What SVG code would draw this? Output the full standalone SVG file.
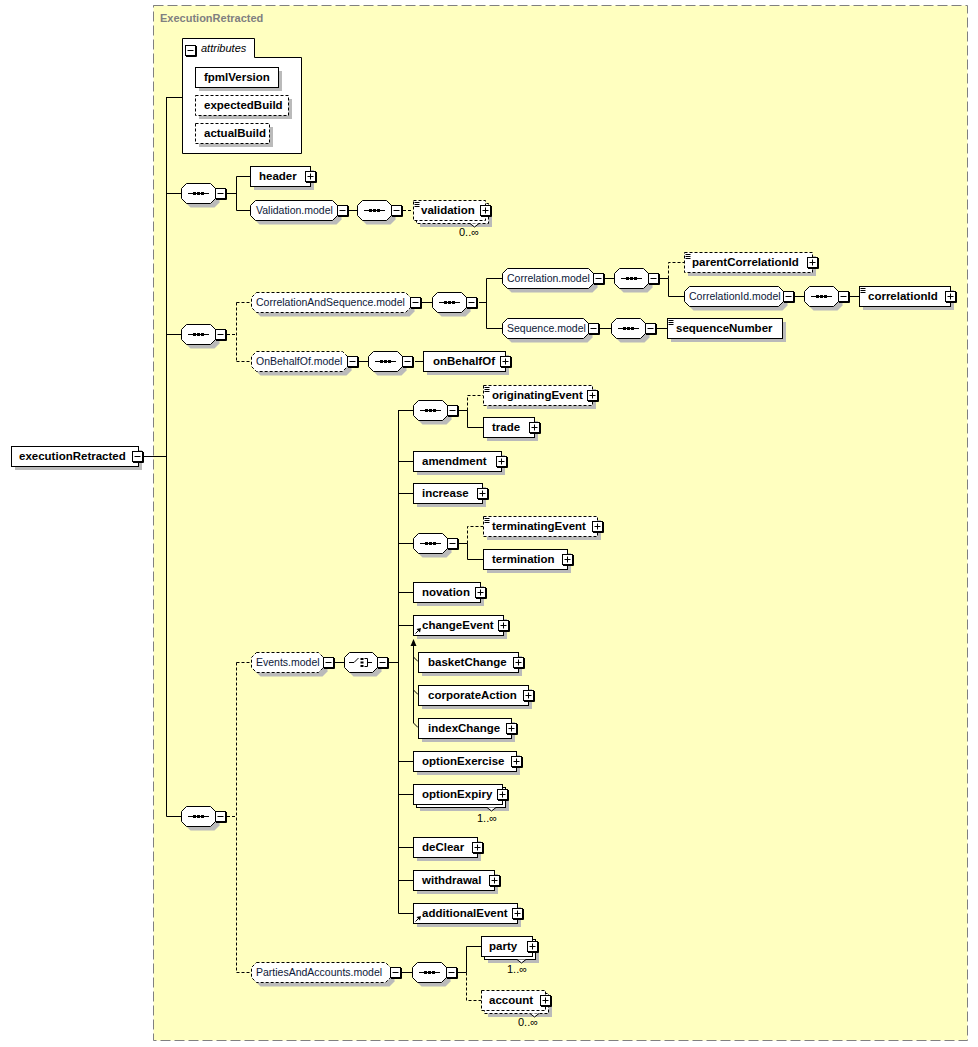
<svg xmlns="http://www.w3.org/2000/svg" width="978" height="1047" viewBox="0 0 978 1047">
<style>
.sh{fill:#bababa}
.bx{fill:#fff;stroke:#000}
.d{stroke-dasharray:3 2}
.ln{fill:none;stroke:#000}
.el{font-family:"Liberation Sans",Arial,sans-serif;font-size:11.5px;font-weight:bold;fill:#000}
.md{font-family:"Liberation Sans",Arial,sans-serif;font-size:10.5px;fill:#0c1838}
.oc{font-family:"Liberation Sans",Arial,sans-serif;font-size:11px;fill:#000}
</style>
<defs>
<g id="plus"><rect x="0.5" y="0.5" width="10" height="10" fill="#fff" stroke="#000"/><path d="M11.5,1V11.5H1" fill="none" stroke="#000"/><path d="M2.5,5.5H8.5M5.5,2.5V8.5" stroke="#000"/></g>
<g id="minus"><rect x="0.5" y="0.5" width="10" height="10" fill="#fff" stroke="#000"/><path d="M11.5,1V11.5H1" fill="none" stroke="#000"/><path d="M2.5,5.5H8.5" stroke="#000"/></g>
<g id="seq"><path class="sh" transform="translate(4,4)" d="M5.5,0.5H29.5L34.5,5.5V15.5L29.5,20.5H5.5L0.5,15.5V5.5Z"/><path class="bx" d="M5.5,0.5H29.5L34.5,5.5V15.5L29.5,20.5H5.5L0.5,15.5V5.5Z"/><path d="M7,10.5H28" stroke="#000"/><rect x="12" y="9" width="3" height="3"/><rect x="16" y="9" width="3" height="3"/><rect x="20" y="9" width="3" height="3"/><use href="#minus" x="34" y="5"/></g>
<g id="sti"><path d="M1.5,2.5H6.5M1.5,4.5H6.5M1.5,6.5H6.5" stroke="#000"/></g>
<g id="ref"><path d="M2.5,18.5L6,15" stroke="#000"/><polygon points="8,13 3.5,14 7,17.5" fill="#000"/></g>
</defs>

<rect x="153.5" y="5.5" width="814" height="1035" fill="#ffffc0" stroke="#808080" stroke-dasharray="10 4"/>
<text x="160" y="22" font-family="Liberation Sans, Arial, sans-serif" font-size="11" font-weight="bold" fill="#808080">ExecutionRetracted</text>

<g id="connectors" class="ln">
<path d="M143,456.5H166.5M166.5,97V816.5M166.5,97.5H182M166.5,193.5H181"/>
<path d="M227,193.5H236.5M236.5,176.5V210.5M236.5,176.5H250M236.5,210.5H250M348,210.5H357"/>
<path class="d" d="M403,210.5H413"/>
<path d="M166.5,334.5H181"/>
<path class="d" d="M227,334.5H236.5M236.5,302.5V361.5M236.5,302.5H251M236.5,361.5H251"/>
<path d="M422,302.5H432M479,302.5H486.5M486.5,278.5V328.5M486.5,278.5H502M486.5,328.5H502"/>
<path d="M605,278.5H614M660,278.5H668.5M668.5,278.5V296.5H684"/>
<path class="d" d="M668.5,278.5V262.5H684"/>
<path d="M795,296.5H804M850,296.5H859M600,328.5H611M657,328.5H667M359,361.5H368M415,361.5H423"/>
<path d="M166.5,816.5H181"/>
<path class="d" d="M227,816.5H236.5M236.5,662.5V972.5M236.5,662.5H251M236.5,972.5H251"/>
<path d="M335,662.5H344M389,662.5H398.5M398.5,410V913.5"/>
<path d="M398.5,410.5H413M398.5,461.5H413M398.5,493.5H413M398.5,543.5H413M398.5,592.5H413M398.5,625.5H413M398.5,761.5H413M398.5,794.5H413M398.5,847.5H413M398.5,880.5H413M398.5,913.5H413"/>
<path d="M459,410.5H467.5M467.5,410.5V427.5H483M459,543.5H467.5M467.5,543.5V559.5H483"/>
<path class="d" d="M467.5,410.5V395.5H483M467.5,543.5V526.5H483"/>
<path d="M413.5,645V723M413.5,657L418,661.5M413.5,690L418,694.5M413.5,723L418,727.5"/>
<polygon points="413.5,639 410.5,646 416.5,646" fill="#000" stroke="none"/>
<path d="M402,972.5H412M457,972.5H466.5M466.5,972.5V946.5H481"/>
<path class="d" d="M466.5,972.5V1000.5H481"/>
</g>

<g id="n-executionRetracted"><rect class="sh" x="15" y="450" width="127" height="20"/><rect class="bx" x="11.5" y="446.5" width="127" height="20"/><text class="el" x="19" y="460">executionRetracted</text><use href="#minus" x="132" y="451"/></g>

<g id="n-attributes"><path class="bx" d="M182.5,38.5H254.5V57.5H301.5V153.5H182.5Z"/><use href="#minus" x="185" y="45"/><text x="201" y="52" font-family="Liberation Sans, Arial, sans-serif" font-size="11" font-style="italic">attributes</text></g>
<g id="n-fpmlVersion"><rect class="sh" x="199" y="71" width="83" height="20"/><rect class="bx" x="195.5" y="67.5" width="83" height="20"/><text class="el" x="204" y="81">fpmlVersion</text></g>
<g id="n-expectedBuild"><rect class="sh" x="199" y="99" width="93" height="20"/><rect class="bx d" x="195.5" y="95.5" width="93" height="20"/><text class="el" x="204" y="109">expectedBuild</text></g>
<g id="n-actualBuild"><rect class="sh" x="199" y="127" width="74" height="20"/><rect class="bx d" x="195.5" y="123.5" width="74" height="20"/><text class="el" x="204" y="137">actualBuild</text></g>

<g id="seq1"><use href="#seq" x="181" y="183"/></g>
<g id="n-header"><rect class="sh" x="254" y="170" width="60" height="20"/><rect class="bx" x="250.5" y="166.5" width="60" height="20"/><text class="el" x="259" y="180">header</text><use href="#plus" x="305" y="171"/></g>
<g id="n-Validation.model" transform="translate(250,200)"><path class="sh" transform="translate(4,4)" d="M5.5,0.5H82.5L87.5,5.5V15.5L82.5,20.5H5.5L0.5,15.5V5.5Z"/><path class="bx" d="M5.5,0.5H82.5L87.5,5.5V15.5L82.5,20.5H5.5L0.5,15.5V5.5Z"/><text class="md" x="6" y="14">Validation.model</text><use href="#minus" x="87" y="5"/></g>
<g id="seq-validation"><use href="#seq" x="357" y="200"/></g>
<g id="n-validation"><rect class="sh" x="420" y="207" width="72" height="20"/><rect class="bx d" x="416.5" y="203.5" width="72" height="20"/><polyline points="470,223.5 474.5,227 479,223.5" fill="#fff" stroke="#000"/><rect class="bx d" x="413.5" y="200.5" width="72" height="20"/><use href="#sti" x="413" y="200"/><text class="el" x="421" y="214">validation</text><use href="#plus" x="480" y="205"/><text class="oc" x="459" y="236">0..∞</text></g>

<g id="seq2"><use href="#seq" x="181" y="324"/></g>
<g id="n-CorrelationAndSequence.model" transform="translate(251,292)"><path class="sh" transform="translate(4,4)" d="M5.5,0.5H154.5L159.5,5.5V15.5L154.5,20.5H5.5L0.5,15.5V5.5Z"/><path class="bx d" d="M5.5,0.5H154.5L159.5,5.5V15.5L154.5,20.5H5.5L0.5,15.5V5.5Z"/><text class="md" x="5" y="14">CorrelationAndSequence.model</text><use href="#minus" x="159" y="5"/></g>
<g id="seq-cas"><use href="#seq" x="432" y="292"/></g>
<g id="n-Correlation.model" transform="translate(502,268)"><path class="sh" transform="translate(4,4)" d="M5.5,0.5H86.5L91.5,5.5V15.5L86.5,20.5H5.5L0.5,15.5V5.5Z"/><path class="bx" d="M5.5,0.5H86.5L91.5,5.5V15.5L86.5,20.5H5.5L0.5,15.5V5.5Z"/><text class="md" x="5" y="14">Correlation.model</text><use href="#minus" x="91" y="5"/></g>
<g id="seq-corr"><use href="#seq" x="614" y="268"/></g>
<g id="n-parentCorrelationId"><rect class="sh" x="688" y="256" width="128" height="20"/><rect class="bx d" x="684.5" y="252.5" width="128" height="20"/><use href="#sti" x="684" y="252"/><text class="el" x="692" y="266">parentCorrelationId</text><use href="#plus" x="807" y="257"/></g>
<g id="n-CorrelationId.model" transform="translate(684,286)"><path class="sh" transform="translate(4,4)" d="M5.5,0.5H94.5L99.5,5.5V15.5L94.5,20.5H5.5L0.5,15.5V5.5Z"/><path class="bx" d="M5.5,0.5H94.5L99.5,5.5V15.5L94.5,20.5H5.5L0.5,15.5V5.5Z"/><text class="md" x="5" y="14">CorrelationId.model</text><use href="#minus" x="99" y="5"/></g>
<g id="seq-corrid"><use href="#seq" x="804" y="286"/></g>
<g id="n-correlationId"><rect class="sh" x="863" y="290" width="91" height="20"/><rect class="bx" x="859.5" y="286.5" width="91" height="20"/><use href="#sti" x="859" y="286"/><text class="el" x="868" y="300">correlationId</text><use href="#plus" x="945" y="291"/></g>
<g id="n-Sequence.model" transform="translate(502,318)"><path class="sh" transform="translate(4,4)" d="M5.5,0.5H81.5L86.5,5.5V15.5L81.5,20.5H5.5L0.5,15.5V5.5Z"/><path class="bx" d="M5.5,0.5H81.5L86.5,5.5V15.5L81.5,20.5H5.5L0.5,15.5V5.5Z"/><text class="md" x="5" y="14">Sequence.model</text><use href="#minus" x="86" y="5"/></g>
<g id="seq-seqm"><use href="#seq" x="611" y="318"/></g>
<g id="n-sequenceNumber"><rect class="sh" x="671" y="322" width="115" height="20"/><rect class="bx" x="667.5" y="318.5" width="115" height="20"/><use href="#sti" x="667" y="318"/><text class="el" x="676" y="332">sequenceNumber</text></g>
<g id="n-OnBehalfOf.model" transform="translate(251,351)"><path class="sh" transform="translate(4,4)" d="M5.5,0.5H91.5L96.5,5.5V15.5L91.5,20.5H5.5L0.5,15.5V5.5Z"/><path class="bx d" d="M5.5,0.5H91.5L96.5,5.5V15.5L91.5,20.5H5.5L0.5,15.5V5.5Z"/><text class="md" x="5" y="14">OnBehalfOf.model</text><use href="#minus" x="96" y="5"/></g>
<g id="seq-obo"><use href="#seq" x="368" y="351"/></g>
<g id="n-onBehalfOf"><rect class="sh" x="427" y="355" width="82" height="20"/><rect class="bx" x="423.5" y="351.5" width="82" height="20"/><text class="el" x="433" y="365">onBehalfOf</text><use href="#plus" x="500" y="356"/></g>

<g id="seq3"><use href="#seq" x="181" y="806"/></g>
<g id="n-Events.model" transform="translate(251,652)"><path class="sh" transform="translate(4,4)" d="M5.5,0.5H67.5L72.5,5.5V15.5L67.5,20.5H5.5L0.5,15.5V5.5Z"/><path class="bx d" d="M5.5,0.5H67.5L72.5,5.5V15.5L67.5,20.5H5.5L0.5,15.5V5.5Z"/><text class="md" x="5" y="14">Events.model</text><use href="#minus" x="72" y="5"/></g>
<g id="choice-events" transform="translate(344,652)"><path class="sh" transform="translate(4,4)" d="M5.5,0.5H28.5L33.5,5.5V15.5L28.5,20.5H5.5L0.5,15.5V5.5Z"/><path class="bx" d="M5.5,0.5H28.5L33.5,5.5V15.5L28.5,20.5H5.5L0.5,15.5V5.5Z"/><path d="M5,10.5H10L14.5,6" fill="none" stroke="#000"/><rect x="16.5" y="6" width="3" height="2"/><rect x="16.5" y="9.5" width="3" height="2"/><rect x="16.5" y="13" width="3" height="2"/><path d="M20.5,6.5H23.5V14.5H20.5M23.5,10.5H28" fill="none" stroke="#000"/><use href="#minus" x="33" y="5"/></g>

<g id="seq-orig"><use href="#seq" x="413" y="400"/></g>
<g id="n-originatingEvent"><rect class="sh" x="487" y="389" width="109" height="20"/><rect class="bx d" x="483.5" y="385.5" width="109" height="20"/><use href="#sti" x="483" y="385"/><text class="el" x="492" y="399">originatingEvent</text><use href="#plus" x="587" y="390"/></g>
<g id="n-trade"><rect class="sh" x="487" y="421" width="51" height="20"/><rect class="bx" x="483.5" y="417.5" width="51" height="20"/><text class="el" x="492" y="431">trade</text><use href="#plus" x="529" y="422"/></g>
<g id="n-amendment"><rect class="sh" x="417" y="455" width="88" height="20"/><rect class="bx" x="413.5" y="451.5" width="88" height="20"/><text class="el" x="422" y="465">amendment</text><use href="#plus" x="496" y="456"/></g>
<g id="n-increase"><rect class="sh" x="417" y="487" width="69" height="20"/><rect class="bx" x="413.5" y="483.5" width="69" height="20"/><text class="el" x="422" y="497">increase</text><use href="#plus" x="477" y="488"/></g>
<g id="seq-term"><use href="#seq" x="413" y="533"/></g>
<g id="n-terminatingEvent"><rect class="sh" x="487" y="520" width="114" height="20"/><rect class="bx d" x="483.5" y="516.5" width="114" height="20"/><use href="#sti" x="483" y="516"/><text class="el" x="492" y="530">terminatingEvent</text><use href="#plus" x="592" y="521"/></g>
<g id="n-termination"><rect class="sh" x="487" y="553" width="84" height="20"/><rect class="bx" x="483.5" y="549.5" width="84" height="20"/><text class="el" x="492" y="563">termination</text><use href="#plus" x="562" y="554"/></g>
<g id="n-novation"><rect class="sh" x="417" y="586" width="67" height="20"/><rect class="bx" x="413.5" y="582.5" width="67" height="20"/><text class="el" x="422" y="596">novation</text><use href="#plus" x="475" y="587"/></g>
<g id="n-changeEvent"><rect class="sh" x="417" y="619" width="90" height="20"/><rect class="bx" x="413.5" y="615.5" width="90" height="20"/><use href="#ref" x="413" y="615"/><text class="el" x="422" y="629">changeEvent</text><use href="#plus" x="498" y="620"/></g>
<g id="n-basketChange"><rect class="sh" x="422" y="656" width="100" height="20"/><rect class="bx" x="418.5" y="652.5" width="100" height="20"/><text class="el" x="428" y="666">basketChange</text><use href="#plus" x="513" y="657"/></g>
<g id="n-corporateAction"><rect class="sh" x="422" y="689" width="110" height="20"/><rect class="bx" x="418.5" y="685.5" width="110" height="20"/><text class="el" x="428" y="699">corporateAction</text><use href="#plus" x="523" y="690"/></g>
<g id="n-indexChange"><rect class="sh" x="422" y="722" width="93" height="20"/><rect class="bx" x="418.5" y="718.5" width="93" height="20"/><text class="el" x="428" y="732">indexChange</text><use href="#plus" x="506" y="723"/></g>
<g id="n-optionExercise"><rect class="sh" x="417" y="755" width="103" height="20"/><rect class="bx" x="413.5" y="751.5" width="103" height="20"/><text class="el" x="422" y="765">optionExercise</text><use href="#plus" x="511" y="756"/></g>
<g id="n-optionExpiry"><rect class="sh" x="420" y="791" width="89" height="20"/><rect class="bx" x="416.5" y="787.5" width="89" height="20"/><polyline points="487,807.5 491.5,811 496,807.5" fill="#fff" stroke="#000"/><rect class="bx" x="413.5" y="784.5" width="89" height="20"/><text class="el" x="422" y="798">optionExpiry</text><use href="#plus" x="497" y="789"/><text class="oc" x="477" y="822">1..∞</text></g>
<g id="n-deClear"><rect class="sh" x="417" y="841" width="64" height="20"/><rect class="bx" x="413.5" y="837.5" width="64" height="20"/><text class="el" x="422" y="851">deClear</text><use href="#plus" x="472" y="842"/></g>
<g id="n-withdrawal"><rect class="sh" x="417" y="874" width="81" height="20"/><rect class="bx" x="413.5" y="870.5" width="81" height="20"/><text class="el" x="422" y="884">withdrawal</text><use href="#plus" x="489" y="875"/></g>
<g id="n-additionalEvent"><rect class="sh" x="417" y="907" width="104" height="20"/><rect class="bx" x="413.5" y="903.5" width="104" height="20"/><use href="#ref" x="413" y="903"/><text class="el" x="422" y="917">additionalEvent</text><use href="#plus" x="512" y="908"/></g>

<g id="n-PartiesAndAccounts.model" transform="translate(251,962)"><path class="sh" transform="translate(4,4)" d="M5.5,0.5H134.5L139.5,5.5V15.5L134.5,20.5H5.5L0.5,15.5V5.5Z"/><path class="bx d" d="M5.5,0.5H134.5L139.5,5.5V15.5L134.5,20.5H5.5L0.5,15.5V5.5Z"/><text class="md" x="5" y="14">PartiesAndAccounts.model</text><use href="#minus" x="139" y="5"/></g>
<g id="seq-pa"><use href="#seq" x="412" y="962"/></g>
<g id="n-party"><rect class="sh" x="488" y="943" width="51" height="20"/><rect class="bx" x="484.5" y="939.5" width="51" height="20"/><polyline points="517,959.5 521.5,963 526,959.5" fill="#fff" stroke="#000"/><rect class="bx" x="481.5" y="936.5" width="51" height="20"/><text class="el" x="489" y="950">party</text><use href="#plus" x="527" y="941"/><text class="oc" x="507" y="973">1..∞</text></g>
<g id="n-account"><rect class="sh" x="488" y="997" width="64" height="20"/><rect class="bx d" x="484.5" y="993.5" width="64" height="20"/><polyline points="530,1013.5 534.5,1017 539,1013.5" fill="#fff" stroke="#000"/><rect class="bx d" x="481.5" y="990.5" width="64" height="20"/><text class="el" x="489" y="1004">account</text><use href="#plus" x="540" y="995"/><text class="oc" x="518" y="1026">0..∞</text></g>
</svg>
